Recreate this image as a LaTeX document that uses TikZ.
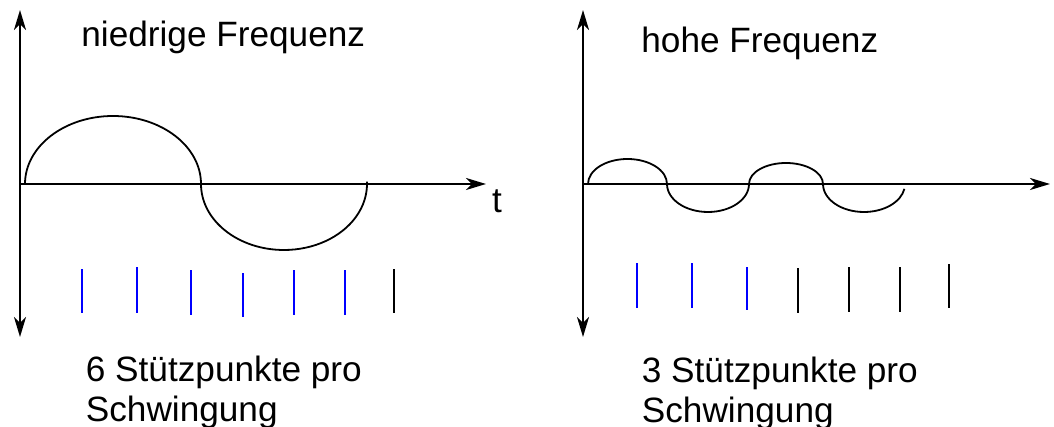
\documentclass[tikz,border=0pt]{standalone}
\usepackage{fontspec}
\setmainfont{Liberation Sans}
\usetikzlibrary{arrows.meta}
\definecolor{sampleBlue}{HTML}{0000FF}
\definecolor{sampleBlack}{HTML}{000000}
\tikzset{
  axisBoth/.style  = {line width=1.2pt,
                      {Stealth[length=10pt, width=6pt, inset=3pt]}-{Stealth[length=10pt, width=6pt, inset=3pt]}},
  axisArrow/.style = {line width=1.2pt,
                      -{Stealth[length=10pt, width=6pt, inset=3pt]}},
  wave/.style      = {line width=0.9pt},
  tick/.style      = {line width=1pt},
  caption/.style   = {font=\fontsize{17.6}{20}\selectfont, anchor=base west,
                      align=left, inner sep=0pt}
}
\begin{document}
\begin{tikzpicture}[x=0.5pt, y=0.5pt]
\useasboundingbox (0,0) rectangle (1054,427);
% ---- left panel: low frequency
\coordinate (yTopL) at (20,417);
\coordinate (yBotL) at (20,90);
\coordinate (tOrigL) at (20,243);
\coordinate (tEndL) at (486,243);
\draw[axisBoth] (yBotL) -- (yTopL);
\draw[axisArrow] (tOrigL) -- (tEndL);
\node[caption, anchor=base] (tLabel) at (497,214) {t};
\node[caption] (titleL) at (81,380) {niedrige Frequenz};
% one period, drawn as two half ellipses
\draw[wave] (25,243)
  arc[start angle=180, end angle=0,   x radius=88, y radius=68]
  arc[start angle=180, end angle=362, x radius=83, y radius=66];
% sample marks (blue = one period)
\foreach \px/\ytop/\ylow/\col in {
    82/158/114/sampleBlue,
    137/160/114/sampleBlue,
    191/157/112/sampleBlue,
    243/154/110/sampleBlue,
    294/157/112/sampleBlue,
    345/157/112/sampleBlue,
    394/158/114/sampleBlack}{
  \draw[tick, draw=\col] (\px,\ylow) -- (\px,\ytop);
}
% base anchor of a two-line node sits on the last line
\node[caption] (noteL) at (85.5,5) {6 Stützpunkte pro\\Schwingung};
% ---- right panel: high frequency
\coordinate (yTopR) at (583,417);
\coordinate (yBotR) at (583,90);
\coordinate (tOrigR) at (583,243);
\coordinate (tEndR) at (1050,243);
\draw[axisBoth] (yBotR) -- (yTopR);
\draw[axisArrow] (tOrigR) -- (tEndR);
\node[caption] (titleR) at (641,374) {hohe Frequenz};
% two periods, four half ellipses
\draw[wave] (588,243)
  arc[start angle=180, end angle=0,   x radius=39.5, y radius=25]
  arc[start angle=180, end angle=360, x radius=41,   y radius=28]
  arc[start angle=180, end angle=0,   x radius=37,   y radius=21]
  arc[start angle=180, end angle=350, x radius=41,   y radius=28];
\foreach \px/\ytop/\ylow/\col in {
    637/164/119/sampleBlue,
    692/164/119/sampleBlue,
    747/160/117/sampleBlue,
    798/159/114/sampleBlack,
    849/160/115/sampleBlack,
    900/160/115/sampleBlack,
    949/163/119/sampleBlack}{
  \draw[tick, draw=\col] (\px,\ylow) -- (\px,\ytop);
}
\node[caption] (noteR) at (641.5,4) {3 Stützpunkte pro\\Schwingung};
\end{tikzpicture}
\end{document}
